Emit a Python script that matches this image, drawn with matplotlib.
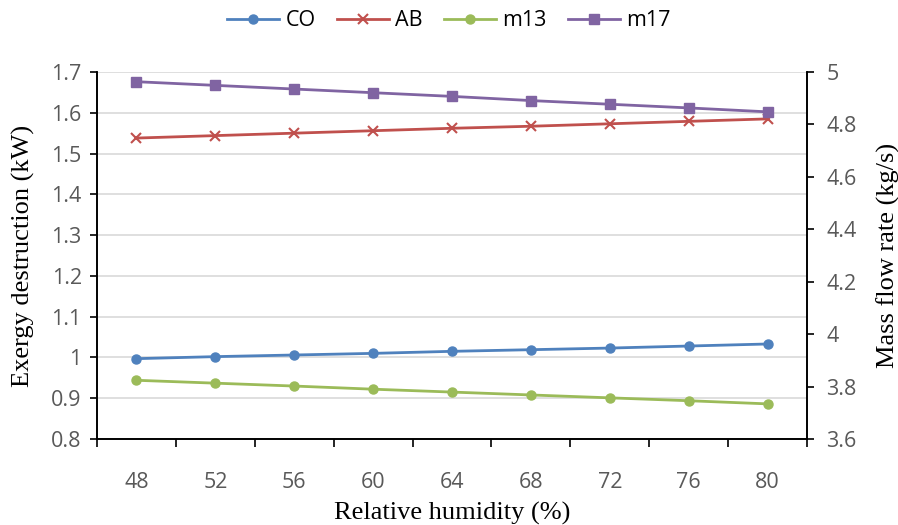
import numpy as np
import matplotlib
matplotlib.use("Agg")
import matplotlib.pyplot as plt
from matplotlib.ticker import FixedLocator

# data
humidity = [48, 52, 56, 60, 64, 68, 72, 76, 80]
co = [0.997, 1.002, 1.006, 1.010, 1.015, 1.019, 1.023, 1.028, 1.033]
ab = [1.538, 1.544, 1.550, 1.556, 1.562, 1.567, 1.573, 1.579, 1.585]
m13 = [3.824, 3.813, 3.802, 3.790, 3.779, 3.768, 3.757, 3.746, 3.734]
m17 = [4.963, 4.949, 4.935, 4.921, 4.907, 4.891, 4.877, 4.863, 4.848]

left_ticks = ["0.8", "0.9", "1", "1.1", "1.2", "1.3", "1.4", "1.5", "1.6", "1.7"]
right_ticks = ["3.6", "3.8", "4", "4.2", "4.4", "4.6", "4.8", "5"]

tick_font = "Open Sans"
label_font = "Liberation Serif"
tick_color = "#595959"
tick_size = 15.5

fig = plt.figure(figsize=(8.98, 5.25), dpi=100)
ax = fig.add_axes([97 / 898, 1 - 439 / 525, 710 / 898, 367 / 525])
ax2 = ax.twinx()

l1, = ax.plot(humidity, co, color="#4f81bd", marker="o", markersize=6.5, lw=2, label="CO")
l2, = ax.plot(humidity, ab, color="#c0504d", marker="x", markersize=6.5, mew=1.5, lw=2, label="AB")
l3, = ax2.plot(humidity, m13, color="#9bbb59", marker="o", markersize=6.5, lw=2, label="m13")
l4, = ax2.plot(humidity, m17, color="#8064a2", marker="s", markersize=6.5, lw=2, label="m17")

ax.set_xlim(46, 82)
ax.set_ylim(0.8, 1.7)
ax2.set_ylim(3.6, 5.0)
ax.set_yticks(np.linspace(0.8, 1.7, len(left_ticks)))
ax.set_yticklabels(left_ticks)
ax2.set_yticks(np.linspace(3.6, 5.0, len(right_ticks)))
ax2.set_yticklabels(right_ticks)

# category style x axis: tick marks between categories, labels at categories
ax.xaxis.set_major_locator(FixedLocator(humidity))
ax.xaxis.set_minor_locator(FixedLocator(np.arange(46, 83, 4)))
ax.tick_params(axis="x", which="major", length=0, pad=24)
ax.tick_params(axis="x", which="minor", length=6, width=1.2, direction="out")

ax.grid(axis="y", color="#d9d9d9", lw=1.2)
ax.set_axisbelow(True)

for a in (ax, ax2):
    a.spines["top"].set_visible(False)
    for s in ("left", "right", "bottom"):
        a.spines[s].set_color("black")
        a.spines[s].set_linewidth(1.2)
    a.tick_params(axis="y", length=5, width=1.2, labelsize=tick_size, labelcolor=tick_color)
    for t in a.get_yticklabels():
        t.set_fontfamily(tick_font)
ax.tick_params(axis="y", pad=6)
ax2.tick_params(axis="y", pad=9)
ax.tick_params(axis="x", labelsize=tick_size, labelcolor=tick_color)
for t in ax.get_xticklabels():
    t.set_fontfamily(tick_font)

ax.set_xlabel("Relative humidity (%)", fontfamily=label_font, fontsize=19, labelpad=6)
ax.set_ylabel("Exergy destruction (kW)", fontfamily=label_font, fontsize=19, labelpad=12)
ax2.set_ylabel("Mass flow rate (kg/s)", fontfamily=label_font, fontsize=19, labelpad=14)

fig.legend(handles=[l1, l2, l3, l4], loc="center", bbox_to_anchor=(0.5, 1 - 21 / 525), ncol=4,
           frameon=False, prop={"family": tick_font, "size": tick_size}, handlelength=2.4,
           columnspacing=1.0, handletextpad=0.3)

fig.savefig("out.png", dpi=100)
